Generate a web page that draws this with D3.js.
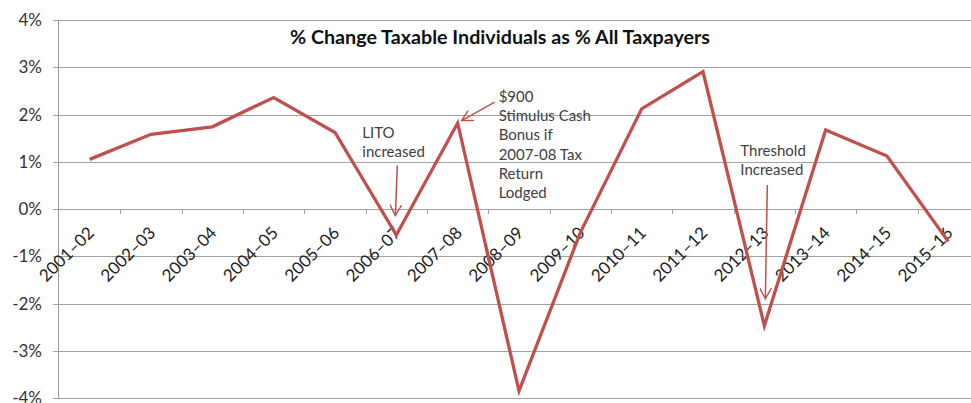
<!DOCTYPE html>
<html>
<head>
<meta charset="utf-8">
<script src="https://cdn.jsdelivr.net/npm/d3@7"></script>
<style>
  body { margin: 0; background: #fff; }
  svg { display: block; font-family: Lato, "Open Sans", sans-serif; }
</style>
</head>
<body>
<svg id="chart" width="971" height="403"></svg>
<script>
// years on the x axis and % change values
const years = ['2001–02', '2002–03', '2003–04', '2004–05', '2005–06', '2006–07', '2007–08',
               '2008–09', '2009–10', '2010–11', '2011–12', '2012–13', '2013–14', '2014–15', '2015–16']
const pctChange = [1.05, 1.58, 1.74, 2.36, 1.62, -0.55, 1.82, -3.85, -0.5, 2.12, 2.91, -2.47, 1.67, 1.12, -0.69]
const yTicks = [4, 3, 2, 1, 0, -1, -2, -3, -4]

const titleText = '% Change Taxable Individuals as % All Taxpayers'

// notes: text lines, anchor category, arrow from/to (category offset px, value)
const notes = [
    {lines: ['LITO', 'increased'], year: '2006–07', dx: -34, top: 1.5, from: [1, 0.92], to: [-1, -0.14]},
    {lines: ['$900', 'Stimulus Cash', 'Bonus if', '2007-08 Tax', 'Return', 'Lodged'], year: '2007–08', dx: 41, top: 2.27, from: [37, 2.26], to: [4, 1.87]},
    {lines: ['Threshold', 'Increased'], year: '2012–13', dx: -24, top: 1.12, from: [3, 0.51], to: [1, -1.9]}
]

const red = '#c0504d'
const grey = '#404040'

let svg = d3.select('#chart')

let margin = {left: 59, right: -8, top: 20, bottom: 5}
let width = +svg.attr('width'), height = +svg.attr('height')

let x = d3.scaleBand().domain(years).range([margin.left, width - margin.right]).padding(0)
let y = d3.scaleLinear().domain([-4, 4]).range([height - margin.bottom, margin.top])
let cx = d => x(d) + x.bandwidth() / 2

// gridlines
svg.append('g')
    .selectAll('line')
    .data(yTicks)
    .enter()
    .append('line')
        .attr('x1', margin.left - 6)
        .attr('x2', width)
        .attr('y1', d => Math.round(y(d)) + 0.5)
        .attr('y2', d => Math.round(y(d)) + 0.5)
        .style('stroke', '#a3a3a3')
        .style('stroke-width', 1)

// vertical axis line
svg.append('line')
    .attr('x1', margin.left - 0.5).attr('x2', margin.left - 0.5)
    .attr('y1', y(4)).attr('y2', y(-4))
    .style('stroke', '#9a9a9a')

// category ticks on the zero line
svg.append('g')
    .selectAll('line')
    .data(years.slice(1))
    .enter()
    .append('line')
        .attr('x1', d => Math.round(x(d)) + 0.5)
        .attr('x2', d => Math.round(x(d)) + 0.5)
        .attr('y1', Math.round(y(0)))
        .attr('y2', Math.round(y(0)) + 5)
        .style('stroke', '#a3a3a3')

// y labels
svg.append('g')
    .selectAll('text')
    .data(yTicks)
    .enter()
    .append('text')
        .attr('x', 42)
        .attr('y', d => y(d))
        .attr('dy', '0.36em')
        .attr('text-anchor', 'end')
        .style('font-size', '17px')
        .style('fill', '#333')
        .text(d => d + '%')

// x labels, rotated
svg.append('g')
    .selectAll('text')
    .data(years)
    .enter()
    .append('text')
        .attr('transform', d => 'translate(' + (cx(d) + 5.5) + ',' + (y(0) + 25) + ') rotate(-45)')
        .attr('text-anchor', 'end')
        .style('font-size', '17px')
        .style('fill', '#222')
        .text(d => d)

// data line
svg.append('path')
    .datum(pctChange)
    .attr('d', d3.line().x((d, i) => cx(years[i])).y(d => y(d)))
    .style('fill', 'none')
    .style('stroke', red)
    .style('stroke-width', 3.3)
    .style('stroke-linejoin', 'miter')

// title, fitted to the width it has in the picture
let title = svg.append('text')
    .attr('x', 500)
    .attr('y', 44)
    .attr('text-anchor', 'middle')
    .style('font-weight', 'bold')
    .style('font-size', '20px')
    .style('fill', '#111')
    .text(titleText)
let tw = title.node().getComputedTextLength()
title.style('font-size', (20 * 420 / tw).toFixed(2) + 'px')

// arrow head
svg.append('defs').append('marker')
    .attr('id', 'head')
    .attr('viewBox', '0 0 12 12')
    .attr('refX', 11).attr('refY', 6)
    .attr('markerWidth', 12).attr('markerHeight', 12)
    .attr('markerUnits', 'userSpaceOnUse')
    .attr('orient', 'auto')
    .append('path')
        .attr('d', 'M0,0 L11,6 L0,12')
        .style('fill', 'none')
        .style('stroke', red)
        .style('stroke-width', 1.4)

// notes
notes.forEach(n => {
    let g = svg.append('g')
    g.selectAll('text')
        .data(n.lines)
        .enter()
        .append('text')
            .attr('x', cx(n.year) + n.dx)
            .attr('y', (d, i) => y(n.top) + i * 19.3)
            .style('font-size', '15px')
            .style('fill', grey)
            .text(d => d)
    g.append('line')
        .attr('x1', cx(n.year) + n.from[0]).attr('y1', y(n.from[1]))
        .attr('x2', cx(n.year) + n.to[0]).attr('y2', y(n.to[1]))
        .attr('marker-end', 'url(#head)')
        .style('stroke', red)
        .style('stroke-width', 1.5)
})
</script>
</body>
</html>
